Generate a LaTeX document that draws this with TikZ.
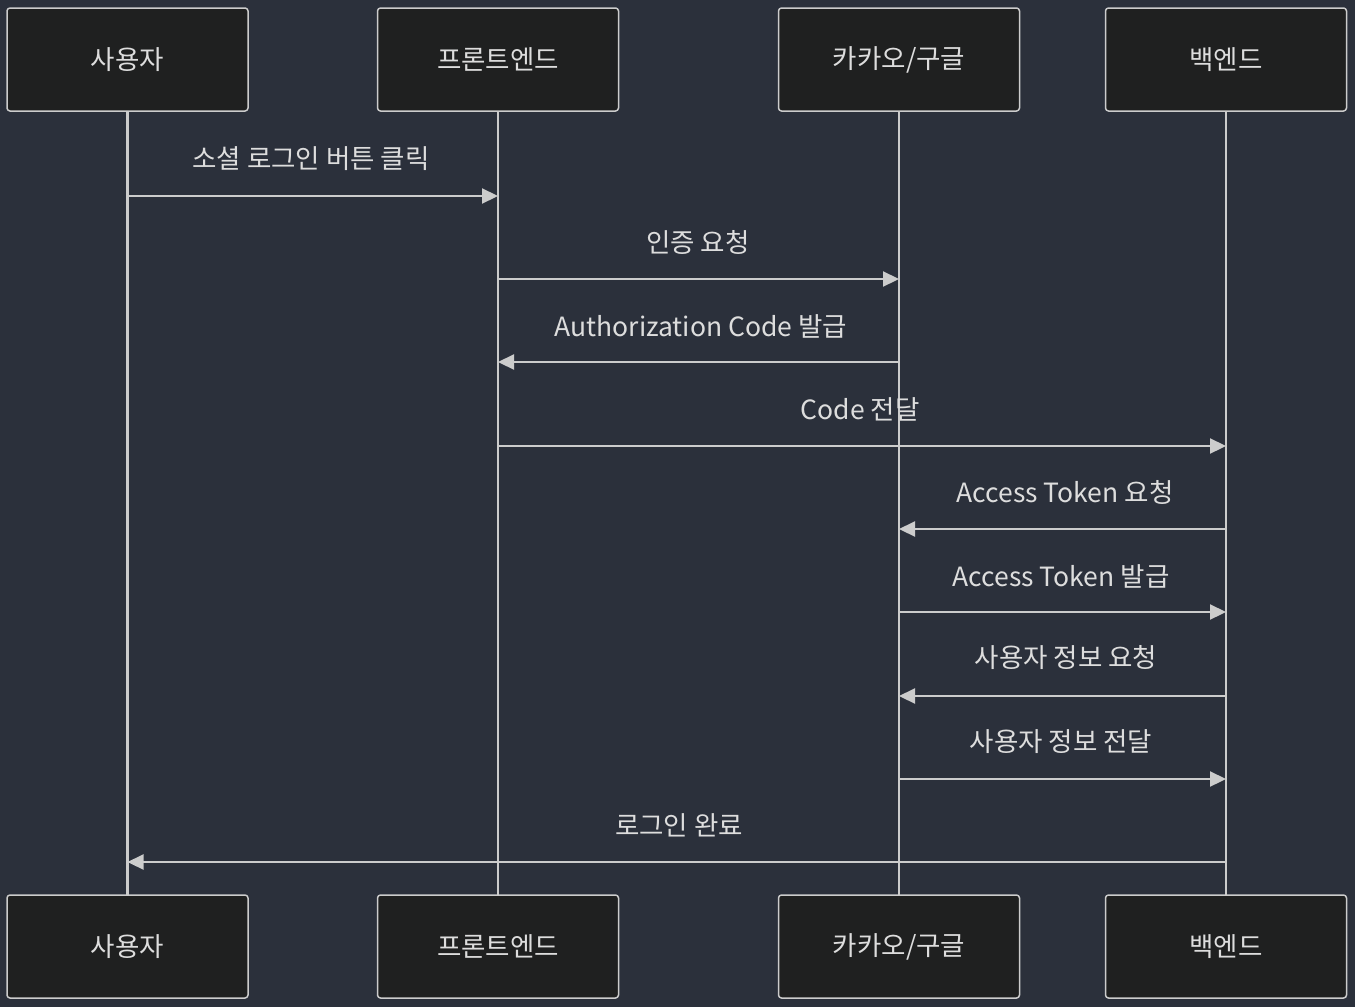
\documentclass[tikz,border=0pt]{standalone}
\usepackage{fontspec}
\setmainfont{Noto Sans CJK KR}
\usetikzlibrary{arrows.meta}
\definecolor{bgcol}{HTML}{2B303B}
\definecolor{boxcol}{HTML}{1F2020}
\definecolor{inkcol}{HTML}{CCCCCC}
\definecolor{txtcol}{HTML}{DDDDDD}

\begin{document}
\begin{tikzpicture}[x=1pt,y=-1pt,line join=round,>={Triangle[length=16pt,width=15pt]},
    actor/.style={draw=inkcol,fill=boxcol,line width=1.5pt,rounded corners=3pt,
      minimum width=241pt,minimum height=103pt,text=txtcol,font=\fontsize{26.5}{30}\selectfont},
    life/.style={draw=inkcol,line width=2.2pt},
    msg/.style={draw=inkcol,line width=2.2pt,->},
    lbl/.style={text=txtcol,font=\fontsize{26.5}{30}\selectfont,inner sep=0pt}]
                \fill[bgcol] (0,0) rectangle (1355,1007);
                \useasboundingbox (0,0) rectangle (1355,1007);
                % lifelines first, boxes on top
                \coordinate (uT) at (127.5,111);  \coordinate (uB) at (127.5,895);
                \coordinate (fT) at (498,111);    \coordinate (fB) at (498,895);
                \coordinate (kT) at (899,111);    \coordinate (kB) at (899,895);
                \coordinate (bT) at (1226,111);   \coordinate (bB) at (1226,895);
                \draw[life] (uT)--(uB);
                \draw[life] (fT)--(fB);
                \draw[life] (kT)--(kB);
                \draw[life] (bT)--(bB);
                \node[actor] (user)  at (127.5,59.5) {사용자};
                \node[actor] (front) at (498,59.5)   {프론트엔드};
                \node[actor] (kakao) at (899,59.5)   {카카오/구글};
                \node[actor] (back)  at (1226,59.5)  {백엔드};
                \node[actor] (userB)  at (127.5,946.5) {사용자};
                \node[actor] (frontB) at (498,946.5)   {프론트엔드};
                \node[actor] (kakaoB) at (899,946.5)   {카카오/구글};
                \node[actor] (backB)  at (1226,946.5)  {백엔드};
                % message rows
                \coordinate (m1) at (0,196);
                \coordinate (m2) at (0,279);
                \coordinate (m3) at (0,362);
                \coordinate (m4) at (0,446);
                \coordinate (m5) at (0,529);
                \coordinate (m6) at (0,612);
                \coordinate (m7) at (0,696);
                \coordinate (m8) at (0,779);
                \coordinate (m9) at (0,862);
                \draw[msg] (uT |- m1)--(fT |- m1);
                \draw[msg] (fT |- m2)--(kT |- m2);
                \draw[msg] (kT |- m3)--(fT |- m3);
                \draw[msg] (fT |- m4)--(bT |- m4);
                \draw[msg] (bT |- m5)--(kT |- m5);
                \draw[msg] (kT |- m6)--(bT |- m6);
                \draw[msg] (bT |- m7)--(kT |- m7);
                \draw[msg] (kT |- m8)--(bT |- m8);
                \draw[msg] (bT |- m9)--(uT |- m9);
                \node[lbl] (l1) at (311,159)  {소셜 로그인 버튼 클릭};
                \node[lbl] (l2) at (698,242)  {인증 요청};
                \node[lbl] (l3) at (701,326)  {Authorization Code 발급};
                \node[lbl] (l4) at (860,409)  {Code 전달};
                \node[lbl] (l5) at (1065,492) {Access Token 요청};
                \node[lbl] (l6) at (1061,576) {Access Token 발급};
                \node[lbl] (l7) at (1066,658) {사용자 정보 요청};
                \node[lbl] (l8) at (1061,742) {사용자 정보 전달};
                \node[lbl] (l9) at (679,825)  {로그인 완료};
              \end{tikzpicture}
\end{document}
